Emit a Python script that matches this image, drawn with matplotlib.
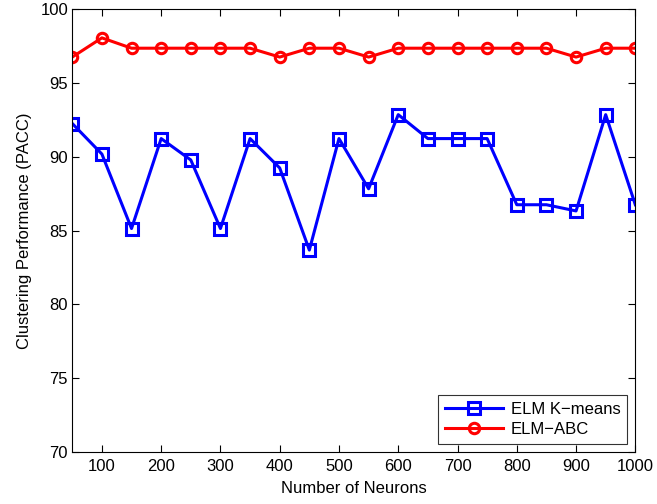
import numpy as np
import matplotlib
matplotlib.use('Agg')
import matplotlib.pyplot as plt

plt.rcParams['font.family'] = ['Liberation Sans', 'DejaVu Sans']

# --- data ---
neurons = [50, 100, 150, 200, 250, 300, 350, 400, 450, 500,
           550, 600, 650, 700, 750, 800, 850, 900, 950, 1000]
elm_kmeans = [92.25, 90.18, 85.14, 91.23, 89.78, 85.14, 91.23, 89.24, 83.68, 91.23,
              87.83, 92.85, 91.23, 91.23, 91.23, 86.75, 86.75, 86.33, 92.85, 86.75]
elm_abc = [96.75, 98.05, 97.35, 97.35, 97.35, 97.35, 97.35, 96.75, 97.35, 97.35,
           96.75, 97.35, 97.35, 97.35, 97.35, 97.35, 97.35, 96.75, 97.35, 97.35]

xticks = [100, 200, 300, 400, 500, 600, 700, 800, 900, 1000]
yticks = [70, 75, 80, 85, 90, 95, 100]

fig = plt.figure(figsize=(6.57, 5.04), dpi=100)
ax = fig.add_axes([0.110, 0.103, 0.857, 0.879])

ax.plot(neurons, elm_kmeans, color='#0000ff', lw=2.2, marker='s', ms=8,
        mfc='none', mec='#0000ff', mew=2.2, label='ELM K\u2212means')
ax.plot(neurons, elm_abc, color='#ff0000', lw=2.2, marker='o', ms=7.5,
        mfc='none', mec='#ff0000', mew=2.2, label='ELM\u2212ABC')

ax.set_xlim(50, 1000)
ax.set_ylim(70, 100)
ax.set_xticks(xticks)
ax.set_yticks(yticks)
ax.tick_params(direction='in', length=5, width=0.8, labelsize=12,
               top=True, right=True, pad=5)
ax.tick_params(axis='y', pad=3)
for s in ax.spines.values():
    s.set_linewidth(0.8)

ax.set_xlabel('Number of Neurons', fontsize=12, labelpad=5)
ax.set_ylabel('Clustering Performance (PACC)', fontsize=12, labelpad=6)

leg = ax.legend(loc='lower right', fontsize=12, frameon=True, fancybox=False,
                edgecolor='black', handlelength=3.5, borderpad=0.4,
                labelspacing=0.3, handletextpad=0.45, borderaxespad=0.5)
leg.get_frame().set_linewidth(0.8)

fig.savefig('out.png', dpi=100)
